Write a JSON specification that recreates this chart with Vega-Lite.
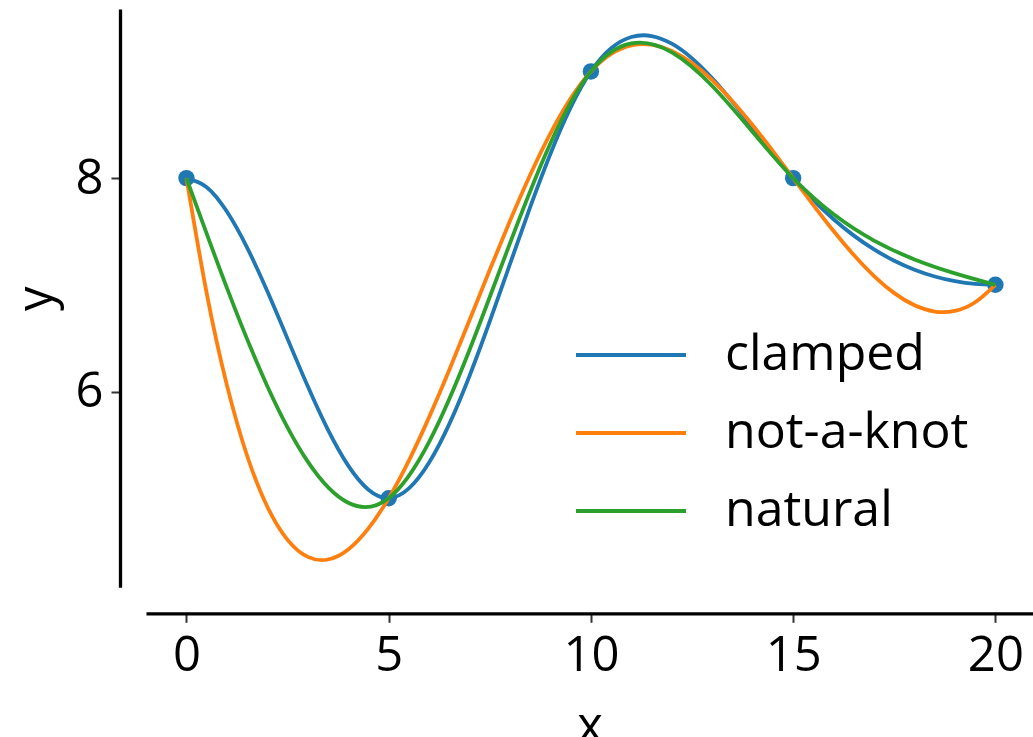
{
  "$schema": "https://vega.github.io/schema/vega-lite/v6.json",
  "width": 887,
  "height": 578.3,
  "autosize": {"type": "none"},
  "padding": {"left": 146, "top": 9, "right": 0, "bottom": 149.7},
  "background": "white",
  "config": {
    "view": {"stroke": null},
    "font": "Open Sans",
    "axis": {
      "grid": false,
      "domainColor": "#000000",
      "domainWidth": 3.3,
      "tickColor": "#333333",
      "tickWidth": 2,
      "tickSize": 9,
      "labelFontSize": 49,
      "labelColor": "#000000",
      "titleFontSize": 49,
      "titleFontWeight": "normal",
      "titleColor": "#000000",
      "labelFlush": false,
      "labelOverlap": false,
      "labelBound": false,
      "offset": 26
    }
  },
  "datasets": {
    "knots": [
      {"x": 0, "y": 8},
      {"x": 5, "y": 5},
      {"x": 10, "y": 9},
      {"x": 15, "y": 8},
      {"x": 20, "y": 7}
    ],
    "curves": [
      {"bc": "clamped", "x": 0, "y": 8},
      {"bc": "clamped", "x": 0.5, "y": 7.9155},
      {"bc": "clamped", "x": 1, "y": 7.6863},
      {"bc": "clamped", "x": 1.5, "y": 7.3486},
      {"bc": "clamped", "x": 2, "y": 6.9389},
      {"bc": "clamped", "x": 2.5, "y": 6.4933},
      {"bc": "clamped", "x": 3, "y": 6.0483},
      {"bc": "clamped", "x": 3.5, "y": 5.6401},
      {"bc": "clamped", "x": 4, "y": 5.3051},
      {"bc": "clamped", "x": 4.5, "y": 5.0797},
      {"bc": "clamped", "x": 5, "y": 5},
      {"bc": "clamped", "x": 5.5, "y": 5.0913},
      {"bc": "clamped", "x": 6, "y": 5.3337},
      {"bc": "clamped", "x": 6.5, "y": 5.6964},
      {"bc": "clamped", "x": 7, "y": 6.1483},
      {"bc": "clamped", "x": 7.5, "y": 6.6585},
      {"bc": "clamped", "x": 8, "y": 7.196},
      {"bc": "clamped", "x": 8.5, "y": 7.7299},
      {"bc": "clamped", "x": 9, "y": 8.2291},
      {"bc": "clamped", "x": 9.5, "y": 8.6628},
      {"bc": "clamped", "x": 10, "y": 9},
      {"bc": "clamped", "x": 10.5, "y": 9.2174},
      {"bc": "clamped", "x": 11, "y": 9.3229},
      {"bc": "clamped", "x": 11.5, "y": 9.3319},
      {"bc": "clamped", "x": 12, "y": 9.26},
      {"bc": "clamped", "x": 12.5, "y": 9.1228},
      {"bc": "clamped", "x": 13, "y": 8.9357},
      {"bc": "clamped", "x": 13.5, "y": 8.7144},
      {"bc": "clamped", "x": 14, "y": 8.4743},
      {"bc": "clamped", "x": 14.5, "y": 8.231},
      {"bc": "clamped", "x": 15, "y": 8},
      {"bc": "clamped", "x": 15.5, "y": 7.7941},
      {"bc": "clamped", "x": 16, "y": 7.6149},
      {"bc": "clamped", "x": 16.5, "y": 7.4611},
      {"bc": "clamped", "x": 17, "y": 7.3317},
      {"bc": "clamped", "x": 17.5, "y": 7.2254},
      {"bc": "clamped", "x": 18, "y": 7.1411},
      {"bc": "clamped", "x": 18.5, "y": 7.0776},
      {"bc": "clamped", "x": 19, "y": 7.0337},
      {"bc": "clamped", "x": 19.5, "y": 7.0082},
      {"bc": "clamped", "x": 20, "y": 7},
      {"bc": "not-a-knot", "x": 0, "y": 8},
      {"bc": "not-a-knot", "x": 0.5, "y": 6.9219},
      {"bc": "not-a-knot", "x": 1, "y": 6.06},
      {"bc": "not-a-knot", "x": 1.5, "y": 5.3981},
      {"bc": "not-a-knot", "x": 2, "y": 4.92},
      {"bc": "not-a-knot", "x": 2.5, "y": 4.6094},
      {"bc": "not-a-knot", "x": 3, "y": 4.45},
      {"bc": "not-a-knot", "x": 3.5, "y": 4.4256},
      {"bc": "not-a-knot", "x": 4, "y": 4.52},
      {"bc": "not-a-knot", "x": 4.5, "y": 4.7169},
      {"bc": "not-a-knot", "x": 5, "y": 5},
      {"bc": "not-a-knot", "x": 5.5, "y": 5.3531},
      {"bc": "not-a-knot", "x": 6, "y": 5.76},
      {"bc": "not-a-knot", "x": 6.5, "y": 6.2044},
      {"bc": "not-a-knot", "x": 7, "y": 6.67},
      {"bc": "not-a-knot", "x": 7.5, "y": 7.1406},
      {"bc": "not-a-knot", "x": 8, "y": 7.6},
      {"bc": "not-a-knot", "x": 8.5, "y": 8.0319},
      {"bc": "not-a-knot", "x": 9, "y": 8.42},
      {"bc": "not-a-knot", "x": 9.5, "y": 8.7481},
      {"bc": "not-a-knot", "x": 10, "y": 9},
      {"bc": "not-a-knot", "x": 10.5, "y": 9.1636},
      {"bc": "not-a-knot", "x": 11, "y": 9.244},
      {"bc": "not-a-knot", "x": 11.5, "y": 9.2504},
      {"bc": "not-a-knot", "x": 12, "y": 9.192},
      {"bc": "not-a-knot", "x": 12.5, "y": 9.0781},
      {"bc": "not-a-knot", "x": 13, "y": 8.918},
      {"bc": "not-a-knot", "x": 13.5, "y": 8.7209},
      {"bc": "not-a-knot", "x": 14, "y": 8.496},
      {"bc": "not-a-knot", "x": 14.5, "y": 8.2526},
      {"bc": "not-a-knot", "x": 15, "y": 8},
      {"bc": "not-a-knot", "x": 15.5, "y": 7.7474},
      {"bc": "not-a-knot", "x": 16, "y": 7.504},
      {"bc": "not-a-knot", "x": 16.5, "y": 7.2791},
      {"bc": "not-a-knot", "x": 17, "y": 7.082},
      {"bc": "not-a-knot", "x": 17.5, "y": 6.9219},
      {"bc": "not-a-knot", "x": 18, "y": 6.808},
      {"bc": "not-a-knot", "x": 18.5, "y": 6.7496},
      {"bc": "not-a-knot", "x": 19, "y": 6.756},
      {"bc": "not-a-knot", "x": 19.5, "y": 6.8364},
      {"bc": "not-a-knot", "x": 20, "y": 7},
      {"bc": "natural", "x": 0, "y": 8},
      {"bc": "natural", "x": 1, "y": 6.9714},
      {"bc": "natural", "x": 2, "y": 6.05},
      {"bc": "natural", "x": 3, "y": 5.3429},
      {"bc": "natural", "x": 4, "y": 4.9571},
      {"bc": "natural", "x": 5, "y": 5},
      {"bc": "natural", "x": 6, "y": 5.5274},
      {"bc": "natural", "x": 7, "y": 6.3909},
      {"bc": "natural", "x": 8, "y": 7.3906},
      {"bc": "natural", "x": 9, "y": 8.3269},
      {"bc": "natural", "x": 10, "y": 9},
      {"bc": "natural", "x": 11, "y": 9.2629},
      {"bc": "natural", "x": 12, "y": 9.1786},
      {"bc": "natural", "x": 13, "y": 8.8629},
      {"bc": "natural", "x": 14, "y": 8.4314},
      {"bc": "natural", "x": 15, "y": 8},
      {"bc": "natural", "x": 16, "y": 7.6611},
      {"bc": "natural", "x": 17, "y": 7.4149},
      {"bc": "natural", "x": 18, "y": 7.238},
      {"bc": "natural", "x": 19, "y": 7.1074},
      {"bc": "natural", "x": 20, "y": 7}
    ]
  },
  "encoding": {
    "x": {
      "field": "x",
      "type": "quantitative",
      "scale": {"domain": [-1, 20.93], "nice": false, "zero": false},
      "axis": {"values": [0, 5, 10, 15, 20], "title": "x", "labelPadding": 9, "titlePadding": 22}
    },
    "y": {
      "field": "y",
      "type": "quantitative",
      "scale": {"domain": [4.165, 9.585], "nice": false, "zero": false},
      "axis": {"values": [6, 8], "title": "y", "labelPadding": 8, "titlePadding": 13}
    }
  },
  "layer": [
    {
      "data": {"name": "knots"},
      "mark": {"type": "circle", "size": 270, "color": "#1f77b4", "opacity": 1}
    },
    {
      "data": {"name": "curves"},
      "mark": {"type": "line", "interpolate": "natural", "strokeWidth": 3.8},
      "encoding": {
        "color": {
          "field": "bc",
          "type": "nominal",
          "scale": {"domain": ["clamped", "not-a-knot", "natural"], "range": ["#1f77b4", "#ff7f0e", "#2ca02c"]},
          "legend": {
            "orient": "none",
            "legendX": 430,
            "legendY": 321,
            "title": null,
            "padding": 0,
            "symbolType": "M-5,0H5",
            "symbolSize": 484,
            "symbolStrokeWidth": 3.8,
            "symbolOffset": 30,
            "labelFontSize": 50,
            "labelColor": "#000000",
            "labelOffset": 69,
            "labelLimit": 0,
            "rowPadding": 28
          }
        }
      }
    }
  ]
}
